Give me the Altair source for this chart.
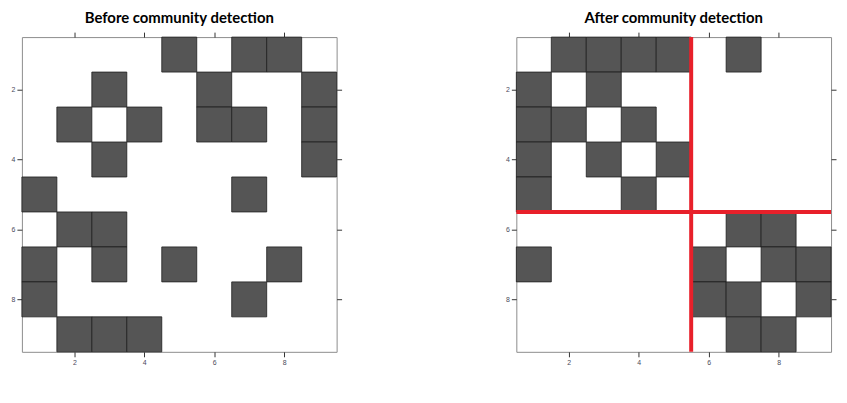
import altair as alt
import pandas as pd

# ---- data ----
titles = ["Before community detection", "After community detection"]
# filled columns per row (row 1 = top)
before_rows = [
    [5, 7, 8],
    [3, 6, 9],
    [2, 4, 6, 7, 9],
    [3, 9],
    [1, 7],
    [2, 3],
    [1, 3, 5, 8],
    [1, 7],
    [2, 3, 4],
]
after_rows = [
    [2, 3, 4, 5, 7],
    [1, 3],
    [1, 2, 4],
    [1, 3, 5],
    [1, 4],
    [7, 8],
    [1, 6, 8, 9],
    [6, 7, 9],
    [7, 8],
]
n_nodes = 9
tick_values = [2, 4, 6, 8]
split_at = [5.5]


def cells(rows):
    recs = []
    for r, cols in enumerate(rows, start=1):
        for c in cols:
            recs.append({"col": c, "row": r,
                         "x0": c - 0.5, "x1": c + 0.5,
                         "y0": r - 0.5, "y1": r + 0.5})
    return pd.DataFrame(recs)


lo, hi = 0.5, n_nodes + 0.5


def scales():
    xs = alt.Scale(domain=[lo, hi], nice=False, zero=False)
    ys = alt.Scale(domain=[lo, hi], nice=False, zero=False, reverse=True)
    return xs, ys


def panel(df, title, extra=None):
    xs, ys = scales()
    base = alt.Chart(df)
    rects = base.mark_rect(fill="#555555", stroke="#1e1e1e", strokeWidth=0.8).encode(
        x=alt.X("x0:Q", scale=xs, axis=alt.Axis(values=tick_values, orient="bottom", title=None)),
        x2="x1",
        y=alt.Y("y0:Q", scale=ys, axis=alt.Axis(values=tick_values, orient="left", title=None)),
        y2="y1",
    )
    ghost = base.mark_point(opacity=0).encode(
        x=alt.X("col:Q", scale=xs, axis=alt.Axis(values=tick_values, orient="top", labels=False, title=None)),
        y=alt.Y("row:Q", scale=ys, axis=alt.Axis(values=tick_values, orient="right", labels=False, title=None)),
    )
    layers = [rects, ghost] + (extra or [])
    return alt.layer(*layers).resolve_axis(x="independent", y="independent").properties(
        width=317, height=317,
        title=alt.TitleParams(title, anchor="middle"),
    )


xs, ys = scales()
vlines = pd.DataFrame({"x": split_at, "y0": [lo], "y1": [hi]})
hlines = pd.DataFrame({"y": split_at, "x0": [lo], "x1": [hi]})
vrule = alt.Chart(vlines).mark_rule(color="#e8202a", strokeWidth=4).encode(
    x=alt.X("x:Q", scale=xs, axis=None),
    y=alt.Y("y0:Q", scale=ys, axis=None), y2="y1")
hrule = alt.Chart(hlines).mark_rule(color="#e8202a", strokeWidth=4).encode(
    y=alt.Y("y:Q", scale=ys, axis=None),
    x=alt.X("x0:Q", scale=xs, axis=None), x2="x1")

left = panel(cells(before_rows), titles[0])
right = panel(cells(after_rows), titles[1], [vrule, hrule])

chart = alt.hconcat(left, right, spacing=163).properties(
    padding={"left": 2, "top": 1, "right": 2, "bottom": 2}
).configure_view(stroke="#8c8c8c", strokeWidth=1).configure_axis(
    domain=False, grid=False, tickColor="#333333", tickSize=5, tickWidth=1,
    labelFontSize=7, labelColor="#4a4a5a", labelPadding=2, labelFont="Liberation Sans",
).configure_title(
    font="Lato", fontSize=15, fontWeight="bold", color="#000000", offset=6,
)

chart.save("out.html", embed_options={"renderer": "svg", "actions": False})
